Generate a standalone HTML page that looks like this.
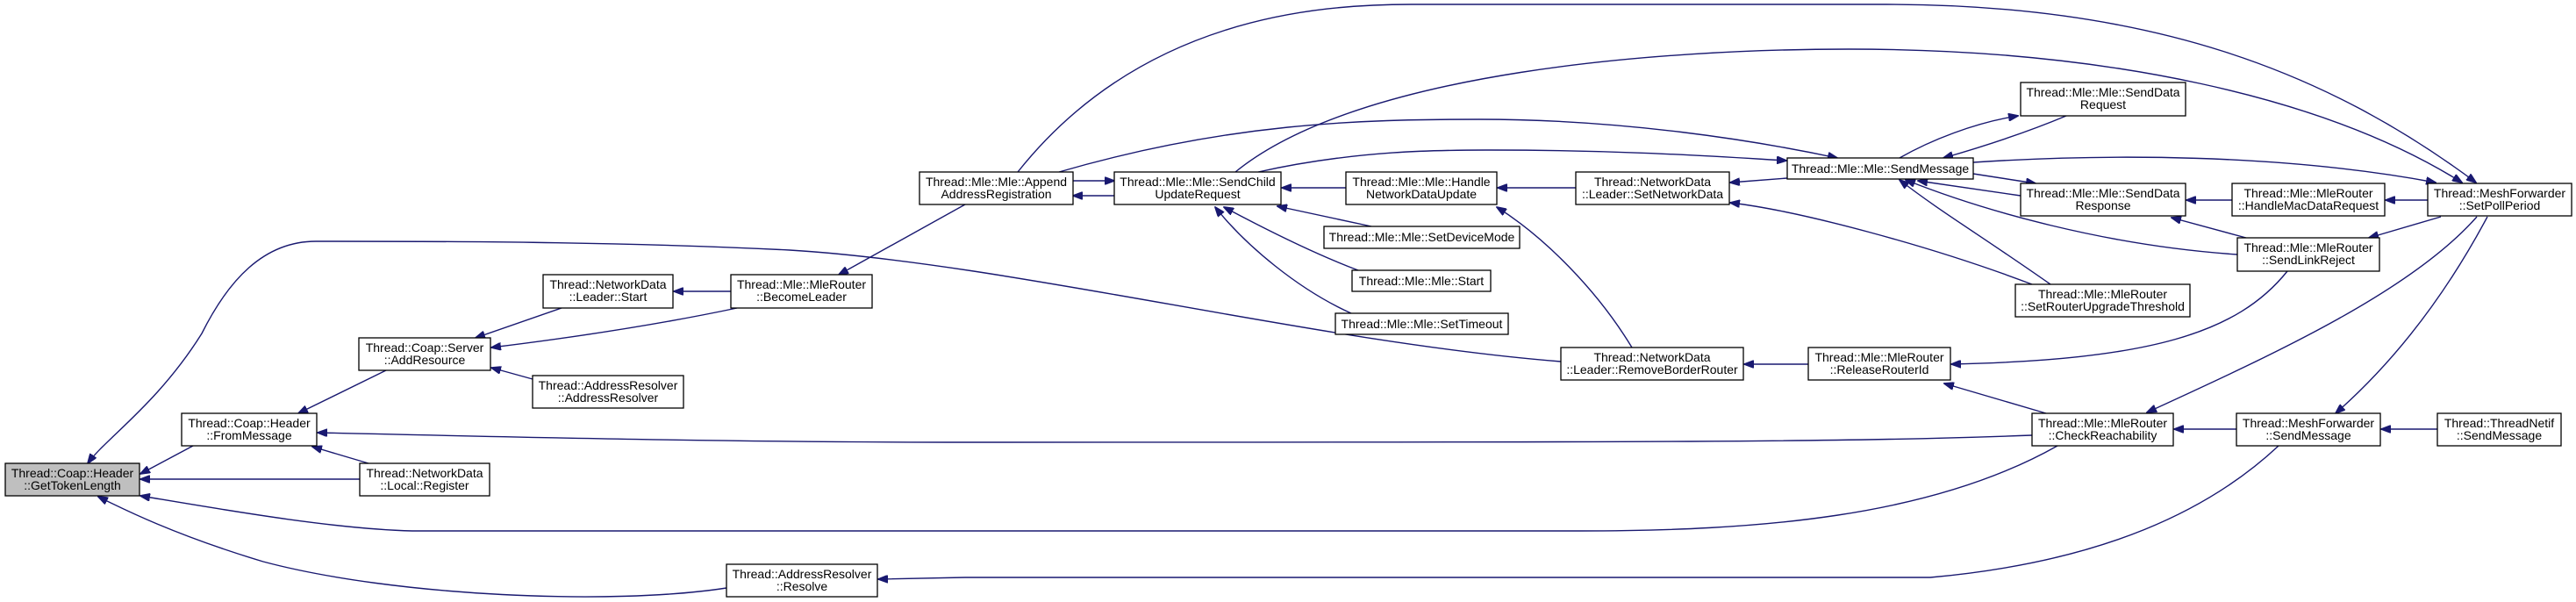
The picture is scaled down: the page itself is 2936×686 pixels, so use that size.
<!DOCTYPE html>
<html><head><meta charset="utf-8"><style>
html,body{margin:0;padding:0;background:#fff;}
svg{display:block;}
text{font-family:"Liberation Sans",Arial,sans-serif;font-size:14px;fill:#000;text-anchor:middle;}
.e{fill:none;stroke:#191970;stroke-width:1.4;}
rect{fill:#fff;stroke:#000;stroke-width:1.3;}
</style></head><body>
<svg width="2936" height="686" viewBox="0 0 2936 686" xmlns="http://www.w3.org/2000/svg">
<defs>
<marker id="a" markerWidth="12" markerHeight="9" refX="11" refY="4.5" orient="auto" markerUnits="userSpaceOnUse">
<path d="M0,0 L12,4.5 L0,9 Z" fill="#191970" stroke="#191970"/>
</marker>
</defs>
<g marker-end="url(#a)">
<path class="e" d="M220,508 L160,540"/>
<path class="e" d="M410,546 L160,546"/>
<path class="e" d="M2345,508 C2200,590 2000,605 1800,605 L470,605 C380,603 250,580 160,565"/>
<path class="e" d="M828,670 C700,690 450,680 300,640 C200,610 140,580 112,566"/>
<path class="e" d="M1779,412 C1500,390 1150,300 900,285 C700,275 500,275 360,275 C300,275 260,320 230,380 C180,460 120,500 100,528"/>
<path class="e" d="M440,422 L340,471"/>
<path class="e" d="M2316,496 C2100,504 1900,504 1100,504 C800,504 500,496 362,493"/>
<path class="e" d="M420,528 L356,509"/>
<path class="e" d="M640,351 L542,385"/>
<path class="e" d="M840,351 C750,370 650,385 560,396"/>
<path class="e" d="M607,432 L560,419"/>
<path class="e" d="M833,332 L768,332"/>
<path class="e" d="M1100,233 L956,313"/>
<path class="e" d="M1223,206 L1270,206"/>
<path class="e" d="M1270,223 L1223,223"/>
<path class="e" d="M1160,196 C1300,20 1500,5 1609,5 L2150,5 C2450,5 2650,80 2822,208"/>
<path class="e" d="M1408,196 C1550,80 1900,56 2107,56 C2400,56 2650,110 2806,208"/>
<path class="e" d="M1207,196 C1400,140 1550,136 1686,136 C1850,136 2000,160 2094,180"/>
<path class="e" d="M1434,196 C1550,170 1650,171 1700,171 C1850,171 1950,178 2036,183"/>
<path class="e" d="M2037,203 L1972,208"/>
<path class="e" d="M2316,324 C2200,280 2050,240 1972,231"/>
<path class="e" d="M2337,324 C2260,270 2210,240 2165,205"/>
<path class="e" d="M2550,290 C2400,280 2260,240 2172,205"/>
<path class="e" d="M2303,223 L2186,206"/>
<path class="e" d="M2249,198 L2320,209"/>
<path class="e" d="M2165,180 C2200,160 2250,140 2300,132"/>
<path class="e" d="M2355,132 C2300,155 2250,170 2215,180"/>
<path class="e" d="M2249,185 C2400,175 2600,175 2776,208"/>
<path class="e" d="M2544,228 L2492,228"/>
<path class="e" d="M2767,228 L2719,228"/>
<path class="e" d="M2560,271 L2475,248"/>
<path class="e" d="M2782,247 L2700,271"/>
<path class="e" d="M2607,309 C2550,380 2450,410 2224,415"/>
<path class="e" d="M2823,247 C2750,330 2600,400 2447,470"/>
<path class="e" d="M2835,247 C2780,350 2720,420 2662,471"/>
<path class="e" d="M2332,471 L2216,437"/>
<path class="e" d="M2549,489 L2478,489"/>
<path class="e" d="M2778,489 L2714,489"/>
<path class="e" d="M2597,508 C2520,580 2400,640 2200,658 L1100,658 L1001,660"/>
<path class="e" d="M2061,415 L1988,415"/>
<path class="e" d="M1860,396 C1820,330 1760,270 1706,236"/>
<path class="e" d="M1796,214 L1707,214"/>
<path class="e" d="M1534,214 L1461,214"/>
<path class="e" d="M1563,258 L1456,235"/>
<path class="e" d="M1548,308 C1500,290 1440,260 1395,236"/>
<path class="e" d="M1540,357 C1480,330 1420,280 1385,236"/>
</g>
<g>
<rect x="6" y="528" width="153" height="37" style="fill:#bfbfbf"/><text x="82.5" y="544">Thread::Coap::Header</text><text x="82.5" y="558">::GetTokenLength</text>
<rect x="207" y="471" width="154" height="37"/><text x="284" y="487">Thread::Coap::Header</text><text x="284" y="501">::FromMessage</text>
<rect x="409" y="385" width="150" height="37"/><text x="484" y="401">Thread::Coap::Server</text><text x="484" y="415">::AddResource</text>
<rect x="607" y="428" width="172" height="37"/><text x="693" y="444">Thread::AddressResolver</text><text x="693" y="458">::AddressResolver</text>
<rect x="410" y="528" width="148" height="37"/><text x="484" y="544">Thread::NetworkData</text><text x="484" y="558">::Local::Register</text>
<rect x="828" y="643" width="172" height="37"/><text x="914" y="659">Thread::AddressResolver</text><text x="914" y="673">::Resolve</text>
<rect x="619" y="313" width="148" height="38"/><text x="693" y="329">Thread::NetworkData</text><text x="693" y="343">::Leader::Start</text>
<rect x="833" y="313" width="161" height="38"/><text x="913.5" y="329">Thread::Mle::MleRouter</text><text x="913.5" y="343">::BecomeLeader</text>
<rect x="1048" y="196" width="175" height="37"/><text x="1135.5" y="212">Thread::Mle::Mle::Append</text><text x="1135.5" y="226">AddressRegistration</text>
<rect x="1270" y="196" width="190" height="37"/><text x="1365" y="212">Thread::Mle::Mle::SendChild</text><text x="1365" y="226">UpdateRequest</text>
<rect x="1534" y="196" width="172" height="37"/><text x="1620" y="212">Thread::Mle::Mle::Handle</text><text x="1620" y="226">NetworkDataUpdate</text>
<rect x="1796" y="196" width="175" height="37"/><text x="1883.5" y="212">Thread::NetworkData</text><text x="1883.5" y="226">::Leader::SetNetworkData</text>
<rect x="1509" y="258" width="223" height="25"/><text x="1620.5" y="275">Thread::Mle::Mle::SetDeviceMode</text>
<rect x="1541" y="308" width="158" height="24"/><text x="1620" y="325">Thread::Mle::Mle::Start</text>
<rect x="1522" y="357" width="197" height="24"/><text x="1620.5" y="374">Thread::Mle::Mle::SetTimeout</text>
<rect x="1779" y="396" width="208" height="37"/><text x="1883" y="412">Thread::NetworkData</text><text x="1883" y="426">::Leader::RemoveBorderRouter</text>
<rect x="2303" y="94" width="188" height="38"/><text x="2397" y="110">Thread::Mle::Mle::SendData</text><text x="2397" y="124">Request</text>
<rect x="2037" y="180" width="212" height="24"/><text x="2143" y="197">Thread::Mle::Mle::SendMessage</text>
<rect x="2303" y="209" width="188" height="37"/><text x="2397" y="225">Thread::Mle::Mle::SendData</text><text x="2397" y="239">Response</text>
<rect x="2544" y="209" width="174" height="37"/><text x="2631" y="225">Thread::Mle::MleRouter</text><text x="2631" y="239">::HandleMacDataRequest</text>
<rect x="2767" y="209" width="164" height="37"/><text x="2849" y="225">Thread::MeshForwarder</text><text x="2849" y="239">::SetPollPeriod</text>
<rect x="2550" y="271" width="162" height="38"/><text x="2631" y="287">Thread::Mle::MleRouter</text><text x="2631" y="301">::SendLinkReject</text>
<rect x="2297" y="324" width="199" height="37"/><text x="2396.5" y="340">Thread::Mle::MleRouter</text><text x="2396.5" y="354">::SetRouterUpgradeThreshold</text>
<rect x="2061" y="396" width="162" height="37"/><text x="2142" y="412">Thread::Mle::MleRouter</text><text x="2142" y="426">::ReleaseRouterId</text>
<rect x="2316" y="471" width="161" height="37"/><text x="2396.5" y="487">Thread::Mle::MleRouter</text><text x="2396.5" y="501">::CheckReachability</text>
<rect x="2549" y="471" width="164" height="37"/><text x="2631" y="487">Thread::MeshForwarder</text><text x="2631" y="501">::SendMessage</text>
<rect x="2778" y="471" width="141" height="37"/><text x="2848.5" y="487">Thread::ThreadNetif</text><text x="2848.5" y="501">::SendMessage</text>
</g>
</svg>
</body></html>
